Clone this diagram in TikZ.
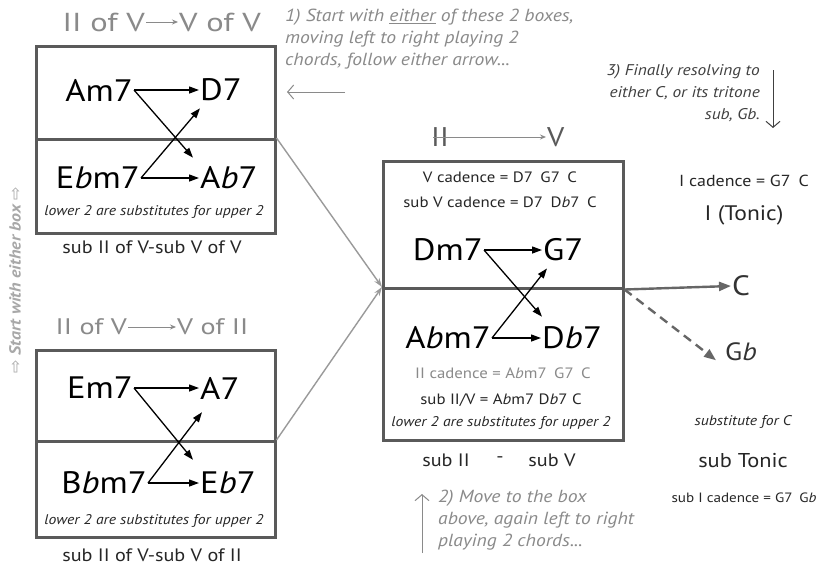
\documentclass[tikz,border=0pt]{standalone}
\usepackage{fontspec}
\setmainfont{PT Sans}[FakeStretch=1.12]
\newfontfamily\titlef{PT Sans}[FakeStretch=1.25]
\newfontfamily\symf{DejaVu Sans}
\usetikzlibrary{arrows.meta}
\definecolor{boxc}{HTML}{5A5A5A}
\definecolor{grayt}{HTML}{8A8A8A}
\definecolor{lightg}{HTML}{A8A8A8}
\definecolor{conn}{HTML}{9A9A9A}
\definecolor{rarrc}{HTML}{666666}
\tikzset{
  half/.style={draw=boxc, line width=2.5pt, anchor=north west, minimum width=239pt, inner sep=0pt},
  chord/.style={font=\fontsize{31}{32}\selectfont, text=black, inner sep=1pt},
  ttl/.style={font=\titlef\fontsize{26}{28}\selectfont, text=grayt, inner sep=1pt},
  ttlb/.style={font=\titlef\fontsize{22.5}{24}\selectfont, text=grayt, inner sep=1pt},
  capt/.style={font=\fontsize{18}{20}\selectfont, text=black!85},
  lnote/.style={font=\itshape\fontsize{14}{15}\selectfont, text=black!85},
  cad/.style={font=\fontsize{15}{16}\selectfont, text=black!85},
  instr/.style={font=\itshape\fontsize{17.5}{22}\selectfont, text=grayt, align=left, inner sep=0pt},
  carr/.style={-{Triangle[length=10pt,width=7pt]}, line width=1.3pt, black},
  tarr/.style={-{Stealth[length=6pt,width=5pt]}, line width=0.9pt, grayt},
  gconn/.style={-{Stealth[open,length=9pt,width=6pt]}, line width=1.4pt, conn},
  rarr/.style={-{Triangle[length=12pt,width=9pt]}, line width=2.4pt, rarrc},
  iarr/.style={-{Straight Barb[length=6pt,width=14pt]}, line width=1pt, grayt},
}
\begin{document}
\begin{tikzpicture}[x=1pt,y=-1pt]
\fill[white] (0,0) rectangle (818,571);
\useasboundingbox (0,0) rectangle (818,571);

% ---------- top-left box ----------
\node[ttl, anchor=east] (t1a) at (146,22) {II of V};
\node[ttl, anchor=west] (t1b) at (178,22) {V of V};
\draw[tarr] (t1a) -- (t1b);
\node[half, minimum height=93pt] (tlu) at (35,45) {};
\node[half, minimum height=94pt] (tll) at (35,138) {};
\node[chord, anchor=east] (am7) at (134,90) {Am7};
\node[chord, anchor=west] (d7) at (199,90) {D7};
\node[chord, anchor=east] (ebm7) at (141,178) {E\textit{b}m7};
\node[chord, anchor=west] (ab7) at (199,178) {A\textit{b}7};
\draw[carr] (am7.east) -- (d7.west);
\draw[carr] (am7.east) -- ([shift={(-6,-8)}]ab7.north west);
\draw[carr] (ebm7.east) -- (ab7.west);
\draw[carr] (ebm7.east) -- ([shift={(1,6)}]d7.south west);
\node[lnote] (tln) at (154,212) {lower 2 are substitutes for upper 2};
\node[capt] (tlc) at (152,247) {sub II of V-sub V of V};

% ---------- bottom-left box ----------
\node[ttlb, anchor=east] (t2a) at (128,327) {II of V};
\node[ttlb, anchor=west] (t2b) at (176,327) {V of II};
\draw[tarr] (t2a) -- (t2b);
\node[half, minimum height=91pt] (blu) at (35,349) {};
\node[half, minimum height=96pt] (bll) at (35,440) {};
\node[chord, anchor=east] (em7) at (134,388) {Em7};
\node[chord, anchor=west] (a7) at (199,388) {A7};
\node[chord, anchor=east] (bbm7) at (148,483) {B\textit{b}m7};
\node[chord, anchor=west] (eb7) at (199,483) {E\textit{b}7};
\draw[carr] (em7.east) -- (a7.west);
\draw[carr] (em7.east) -- ([shift={(-6,-11)}]eb7.north west);
\draw[carr] (bbm7.east) -- (eb7.west);
\draw[carr] (bbm7.east) -- ([shift={(3,12)}]a7.south west);
\node[lnote] (bln) at (154,521) {lower 2 are substitutes for upper 2};
\node[capt] (blc) at (152,555) {sub II of V-sub V of II};

% ---------- centre box ----------
\node[ttl, font=\fontsize{27}{28}\selectfont, text=boxc, anchor=west] (cii) at (430,137) {II};
\node[ttl, font=\fontsize{27}{28}\selectfont, text=boxc, anchor=west] (cv) at (546,137) {V};
\draw[tarr, line width=1pt] ([xshift=3pt]cii.west) -- (cv.west);
\node[half, minimum width=240pt, minimum height=127pt] (cu) at (382,160) {};
\node[half, minimum width=240pt, minimum height=152pt] (cl) at (382,287) {};
\node[cad] (cad1) at (500,177) {V cadence = D7\enspace G7\enspace C};
\node[cad] (cad2) at (500,202) {sub V cadence = D7\enspace D\textit{b}7\enspace C};
\node[chord, anchor=east] (dm7) at (484,250) {Dm7};
\node[chord, anchor=west] (g7) at (542,250) {G7};
\node[chord, anchor=east] (abm7) at (492,338) {A\textit{b}m7};
\node[chord, anchor=west] (db7) at (541,338) {D\textit{b}7};
\draw[carr] (dm7.east) -- (g7.west);
\draw[carr] (dm7.east) -- ([shift={(1,-9)}]db7.north west);
\draw[carr] (abm7.east) -- (db7.west);
\draw[carr] (abm7.east) -- ([shift={(5,6)}]g7.south west);
\node[cad, text=grayt] (cad3) at (503,373) {II cadence = A\textit{b}m7\enspace G7\enspace C};
\node[cad] (cad4) at (501,400) {sub II/V = A\textit{b}m7 D\textit{b}7 C};
\node[lnote] (cln) at (501,423) {lower 2 are substitutes for upper 2};
\node[capt] (csii) at (446,460) {sub II};
\node[capt] (cdash) at (500,460) {-};
\node[capt] (csv) at (552,460) {sub V};

% connectors from left boxes into centre
\draw[gconn] (tll.north east) -- (cl.north west);
\draw[gconn] (bll.north east) -- (cl.north west);

% ---------- right side ----------
\node[chord, font=\fontsize{28}{30}\selectfont, text=black!80, anchor=west] (cc) at (731,286) {C};
\node[chord, font=\fontsize{25}{28}\selectfont, text=black!80, anchor=west] (gb) at (724,352) {G\textit{b}};
\draw[rarr] (cu.south east) -- (cc.west);
\draw[rarr, dashed, dash pattern=on 9pt off 6pt] (cu.south east) -- ([shift={(-8,-2)}]gb.south west);
\node[cad, font=\fontsize{16}{17}\selectfont] (icad) at (744,181) {I cadence = G7\enspace C};
\node[capt, font=\fontsize{21}{22}\selectfont] (iton) at (744,215) {I (Tonic)};
\node[lnote, font=\itshape\fontsize{14}{16}\selectfont] (subc) at (743,422) {substitute for C};
\node[capt, font=\fontsize{20}{22}\selectfont] (subt) at (743,461) {sub Tonic};
\node[cad, font=\fontsize{13.5}{14}\selectfont] (subi) at (744,498) {sub I cadence = G7\enspace G\textit{b}};

% ---------- instructions ----------
\node[instr, anchor=north west] (ins1) at (285,9) {1) Start with \underline{either} of these 2 boxes,\\moving left to right playing 2\\chords, follow either arrow...};
\coordinate (i1s) at (345,92);
\coordinate (i1e) at (287,92);
\draw[iarr] (i1s) -- (i1e);

\node[instr, font=\itshape\fontsize{15.5}{22}\selectfont, align=right, anchor=north east, text=black!75] (ins3) at (760,64) {3) Finally resolving to\\either C, or its tritone\\sub, G\textit{b}.};
\coordinate (i3s) at (773,70);
\coordinate (i3e) at (773,128);
\draw[iarr, black!75] (i3s) -- (i3e);

\node[instr, anchor=north west] (ins2) at (438,490) {2) Move to the box\\above, again left to right\\playing 2 chords...};
\coordinate (i2s) at (422,553);
\coordinate (i2e) at (422,494);
\draw[iarr] (i2s) -- (i2e);

% ---------- vertical note ----------
\node[rotate=90, font=\bfseries\itshape\fontsize{16}{16}\selectfont, text=lightg] (start) at (15,280) {{\symf\mdseries\upshape ⇨} Start with either box {\symf\mdseries\upshape ⇨}};
\end{tikzpicture}
\end{document}
